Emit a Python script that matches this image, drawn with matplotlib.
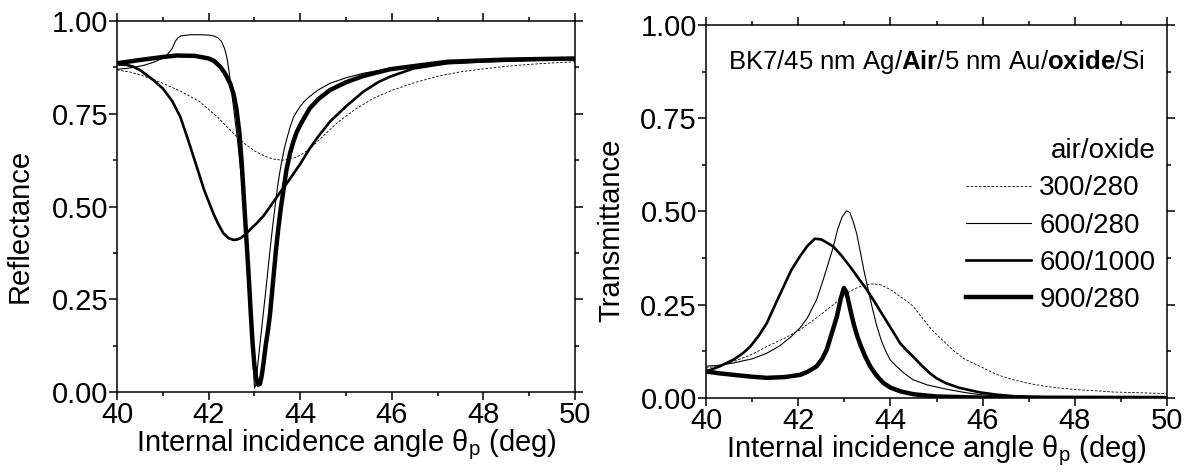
import matplotlib.pyplot as plt
from matplotlib.ticker import MultipleLocator

plt.rcParams['font.family'] = ['Liberation Sans', 'DejaVu Sans']
plt.rcParams['mathtext.fontset'] = 'custom'
plt.rcParams['mathtext.rm'] = 'Liberation Sans'
plt.rcParams['mathtext.bf'] = 'Liberation Sans:bold'

# Reflectance (left panel)
r_300_280_x = [40.0, 40.3, 40.6, 41.0, 41.4, 41.8, 42.2, 42.6, 42.8, 43.0, 43.15, 43.3, 43.45, 43.6,
               43.75, 43.9, 44.05, 44.2, 44.35, 44.5, 44.8, 45.2, 45.6, 46.0, 46.5, 47.0, 47.5,
               48.0, 48.5, 49.0, 49.5, 50.0]
r_300_280_y = [0.868, 0.862, 0.851, 0.832, 0.81, 0.783, 0.74, 0.69, 0.668, 0.65, 0.64, 0.632, 0.627,
               0.625, 0.627, 0.632, 0.642, 0.655, 0.672, 0.69, 0.725, 0.762, 0.792, 0.813, 0.834,
               0.851, 0.863, 0.871, 0.878, 0.883, 0.887, 0.89]

r_600_280_x = [40.0, 40.2, 40.4, 40.6, 40.8, 41.0, 41.1, 41.2, 41.27, 41.33, 41.4, 41.6, 41.8, 42.0,
               42.1, 42.2, 42.28, 42.35, 42.4, 42.45, 42.5, 42.56, 42.62, 42.68, 42.75, 42.8, 42.85,
               42.9, 42.94, 42.97, 43.0, 43.03, 43.07, 43.12, 43.2, 43.27, 43.34, 43.4, 43.45, 43.5,
               43.55, 43.6, 43.65, 43.7, 43.78, 43.85, 43.92, 44.0, 44.1, 44.2, 44.4, 44.65, 45.0,
               45.37, 45.96, 46.5, 47.2, 48.0, 49.0, 50.0]
r_600_280_y = [0.870, 0.872, 0.876, 0.881, 0.889, 0.9, 0.91, 0.925, 0.945, 0.955, 0.96, 0.963, 0.963,
               0.962, 0.96, 0.955, 0.945, 0.925, 0.9, 0.86, 0.81, 0.75, 0.69, 0.62, 0.53, 0.45, 0.37,
               0.27, 0.17, 0.08, 0.01, 0.02, 0.07, 0.13, 0.22, 0.30, 0.383, 0.45, 0.50, 0.55,
               0.59, 0.625, 0.655, 0.68, 0.715, 0.74, 0.755, 0.77, 0.785, 0.796, 0.815, 0.832, 0.847,
               0.859, 0.872, 0.88, 0.889, 0.893, 0.896, 0.898]

r_600_1000_x = [40.0, 40.2, 40.35, 40.5, 40.65, 40.8, 41.0, 41.2, 41.38, 41.55, 41.74, 41.9, 42.1,
                42.2, 42.32, 42.43, 42.54, 42.62, 42.7, 42.8, 42.9, 43.05, 43.2, 43.4, 43.6, 43.75,
                44.0, 44.21, 44.4, 44.65, 45.0, 45.38, 45.7, 45.96, 46.47, 47.2, 48.0, 49.0, 50.0]
r_600_1000_y = [0.883, 0.882, 0.877, 0.868, 0.854, 0.84, 0.818, 0.785, 0.742, 0.68, 0.607, 0.545,
                0.482, 0.455, 0.428, 0.415, 0.41, 0.411, 0.415, 0.425, 0.437, 0.455, 0.475, 0.51,
                0.545, 0.57, 0.615, 0.657, 0.69, 0.729, 0.77, 0.81, 0.835, 0.85, 0.872, 0.886,
                0.891, 0.895, 0.897]

r_900_280_x = [40.0, 40.5, 41.0, 41.3, 41.7, 42.0, 42.12, 42.25, 42.35, 42.47, 42.55, 42.61, 42.67,
               42.72, 42.78, 42.83, 42.88, 42.92, 42.96, 43.0, 43.04, 43.08, 43.12, 43.16, 43.2,
               43.25, 43.3, 43.34, 43.4, 43.47, 43.52, 43.58, 43.64, 43.7, 43.78, 43.85, 43.92,
               44.0, 44.1, 44.21, 44.4, 44.65, 45.0, 45.38, 45.96, 47.2, 48.5, 50.0]
r_900_280_y = [0.886, 0.895, 0.903, 0.907, 0.906, 0.899, 0.892, 0.877, 0.86, 0.832, 0.80, 0.76, 0.70,
               0.62, 0.5, 0.40, 0.30, 0.21, 0.13, 0.07, 0.035, 0.02, 0.022, 0.045, 0.08,
               0.13, 0.17, 0.21, 0.29, 0.383, 0.44, 0.5, 0.55, 0.60, 0.645, 0.675, 0.70,
               0.72, 0.742, 0.765, 0.79, 0.814, 0.835, 0.852, 0.87, 0.89, 0.896, 0.899]

# Transmittance (right panel)
t_300_280_x = [40.0, 40.3, 40.6, 41.0, 41.32, 41.7, 42.04, 42.4, 42.76, 42.95, 43.12, 43.3, 43.5,
               43.63, 43.77, 43.9, 44.05, 44.21, 44.35, 44.49, 44.69, 44.85, 45.0, 45.2, 45.34,
               45.6, 45.94, 46.3, 46.66, 47.0, 47.38, 47.7, 48.1, 48.5, 48.83, 49.4, 50.0]
t_300_280_y = [0.08, 0.088, 0.098, 0.117, 0.138, 0.16, 0.183, 0.215, 0.25, 0.27, 0.286, 0.297, 0.304,
               0.306, 0.304, 0.297, 0.287, 0.272, 0.26, 0.246, 0.215, 0.19, 0.17, 0.147, 0.13,
               0.105, 0.085, 0.063, 0.049, 0.039, 0.031, 0.026, 0.022, 0.019, 0.016, 0.014, 0.012]

t_600_280_x = [40.0, 40.3, 40.6, 41.0, 41.32, 41.6, 41.85, 42.04, 42.2, 42.4, 42.55, 42.65, 42.76,
               42.85, 42.95, 43.05, 43.12, 43.2, 43.27, 43.35, 43.42, 43.49, 43.6, 43.7, 43.8, 43.9,
               43.99, 44.13, 44.3, 44.49, 44.8, 45.2, 45.6, 45.94, 46.5, 47.0, 48.0, 50.0]
t_600_280_y = [0.085, 0.088, 0.094, 0.105, 0.12, 0.14, 0.165, 0.188, 0.215, 0.264, 0.32, 0.36, 0.405,
               0.45, 0.485, 0.502, 0.497, 0.47, 0.44, 0.39, 0.345, 0.305, 0.245, 0.195, 0.155, 0.125,
               0.103, 0.085, 0.066, 0.049, 0.035, 0.024, 0.015, 0.009, 0.004, 0.002, 0.0005, 0.0]

t_600_1000_x = [40.0, 40.3, 40.6, 40.8, 40.96, 41.15, 41.32, 41.5, 41.68, 41.85, 42.04, 42.2, 42.36,
                42.5, 42.6, 42.76, 42.95, 43.12, 43.3, 43.49, 43.67, 43.85, 44.03, 44.21, 44.35,
                44.49, 44.67, 44.85, 45.0, 45.2, 45.5, 45.94, 46.3, 46.66, 47.3, 48.0, 50.0]
t_600_1000_y = [0.071, 0.085, 0.103, 0.12, 0.138, 0.168, 0.201, 0.25, 0.298, 0.343, 0.38, 0.408, 0.427,
                0.425, 0.418, 0.406, 0.38, 0.353, 0.322, 0.29, 0.255, 0.219, 0.183, 0.147, 0.128,
                0.111, 0.088, 0.067, 0.053, 0.04, 0.027, 0.015, 0.009, 0.005, 0.002, 0.001, 0.0]

t_900_280_x = [40.0, 40.3, 40.6, 41.0, 41.32, 41.7, 42.04, 42.2, 42.4, 42.52, 42.62, 42.72, 42.84,
               42.92, 42.99, 43.04, 43.08, 43.12, 43.2, 43.27, 43.34, 43.45, 43.56, 43.7, 43.85,
               44.0, 44.21, 44.5, 45.0, 46.0, 50.0]
t_900_280_y = [0.071, 0.066, 0.062, 0.057, 0.054, 0.056, 0.062, 0.07, 0.085, 0.105, 0.13, 0.17, 0.219,
               0.265, 0.295, 0.285, 0.265, 0.242, 0.2, 0.17, 0.145, 0.112, 0.085, 0.06, 0.04,
               0.028, 0.018, 0.01, 0.004, 0.001, 0.0]

labels = ['300/280', '600/280', '600/1000', '900/280']
widths = [0.6, 0.8, 1.9, 3.2]
styles = [(0, (3, 2)), '-', '-', '-']

fig = plt.figure(figsize=(11.86, 4.72), dpi=100)
ax1 = fig.add_axes([0.0987, 0.1695, 0.3862, 0.786])
ax2 = fig.add_axes([0.5953, 0.1568, 0.3887, 0.7903])

left = [(r_300_280_x, r_300_280_y), (r_600_280_x, r_600_280_y),
        (r_600_1000_x, r_600_1000_y), (r_900_280_x, r_900_280_y)]
right = [(t_300_280_x, t_300_280_y), (t_600_280_x, t_600_280_y),
         (t_600_1000_x, t_600_1000_y), (t_900_280_x, t_900_280_y)]

for (x, y), lw, ls in zip(left, widths, styles):
    ax1.plot(x, y, color='black', lw=lw, linestyle=ls, solid_joinstyle='round')
for (x, y), lw, ls, lab in zip(right, widths, styles, labels):
    ax2.plot(x, y, color='black', lw=lw, linestyle=ls, solid_joinstyle='round', label=lab)

for ax, ylab, lx, ly in [(ax1, 'Reflectance', -0.183, 0.447), (ax2, 'Transmittance', -0.174, 0.45)]:
    ax.set_xlim(40, 50)
    ax.set_ylim(0, 1)
    ax.xaxis.set_major_locator(MultipleLocator(2))
    ax.xaxis.set_minor_locator(MultipleLocator(1))
    ax.yaxis.set_major_locator(MultipleLocator(0.25))
    ax.yaxis.set_minor_locator(MultipleLocator(0.125))
    ax.yaxis.set_major_formatter(lambda v, p: '%.2f' % v)
    ax.tick_params(which='both', direction='out', top=True, right=True, width=1.1,
                   labelsize=21, pad=1)
    ax.tick_params(which='major', length=5.5)
    ax.tick_params(which='minor', length=3)
    for s in ax.spines.values():
        s.set_linewidth(1.1)
    ax.set_ylabel(ylab, fontsize=21)
    ax.yaxis.set_label_coords(lx, ly)
    ax.set_xlabel('Internal incidence angle θ$_\\mathregular{p}$ (deg)', fontsize=21, labelpad=-1)

ax2.text(0.5, 0.9, 'BK7/45 nm Ag/$\\mathbf{Air}$/5 nm Au/$\\mathbf{oxide}$/Si',
         transform=ax2.transAxes, ha='center', va='center', fontsize=18.5)

leg = ax2.legend(loc='upper right', bbox_to_anchor=(0.975, 0.696), frameon=False,
                 title='air/oxide', fontsize=20, title_fontsize=20, handlelength=2.35,
                 handletextpad=0.3, labelspacing=0.4, borderpad=0, borderaxespad=0,
                 alignment='right')

fig.savefig('out.png', dpi=100)
